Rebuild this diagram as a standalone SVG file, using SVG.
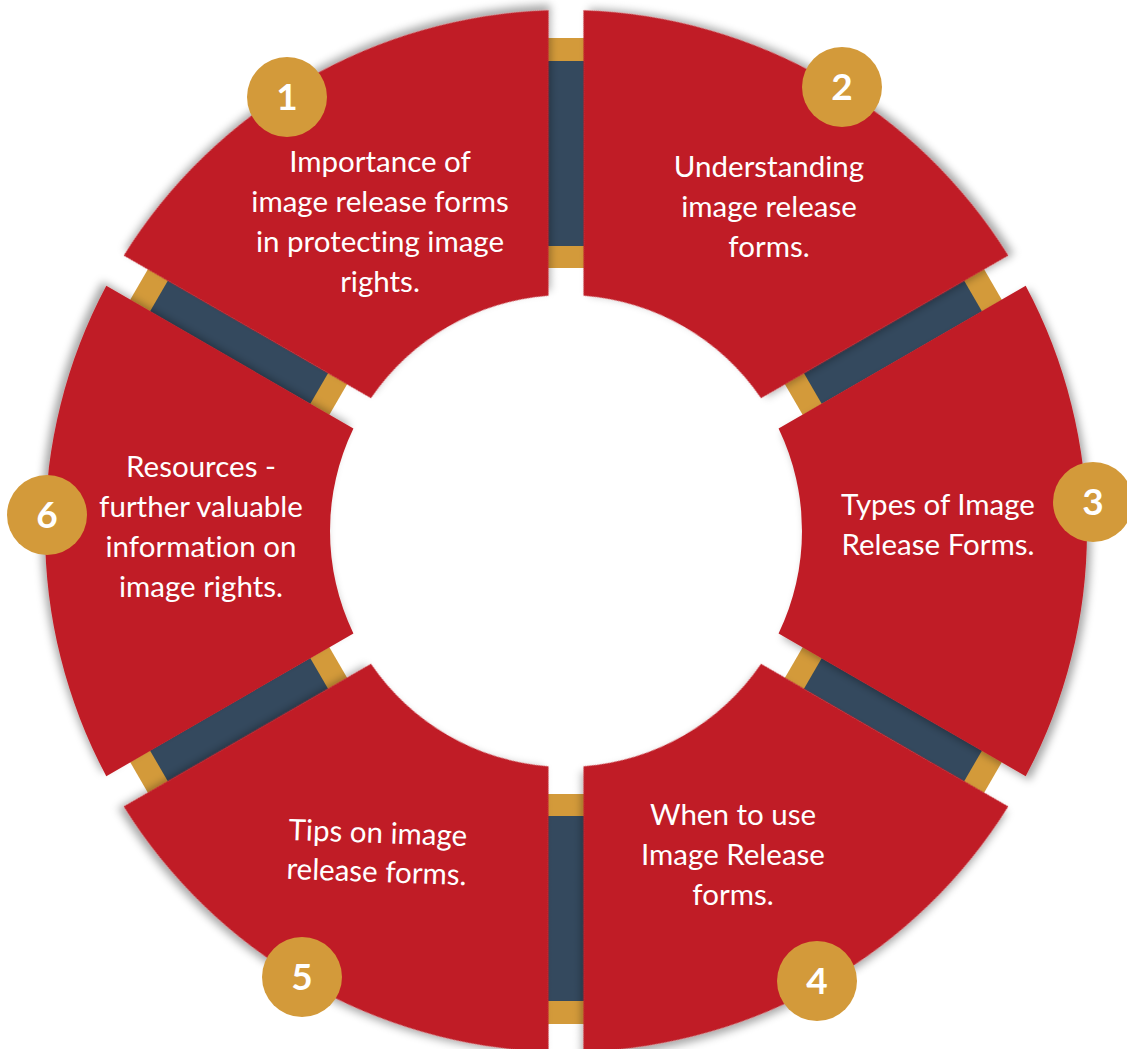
<svg xmlns="http://www.w3.org/2000/svg" width="1127" height="1049" viewBox="0 0 1127 1049">
  <defs>
    <style>
      .seg { fill: #C01F27; filter: url(#shadow); }
      .lbl { font-family: Lato, "Open Sans", "Liberation Sans", sans-serif; font-size: 29.5px; fill: #FFFFFF; text-anchor: middle; font-variant-ligatures: none; }
      .badge { fill: #D39A3A; }
      .num { font-family: Lato, "Open Sans", "Liberation Sans", sans-serif; font-size: 37px; font-weight: bold; fill: #FFFFFF; text-anchor: middle; }
      .gold { fill: #D39A3A; }
      .navy { fill: #34495E; }
    </style>
    <filter id="shadow" x="-20%" y="-20%" width="140%" height="140%">
      <feDropShadow dx="4" dy="4" stdDeviation="4" flood-color="#000000" flood-opacity="0.35"/>
    </filter>
    <path id="segShape" d="M 212.569,-102.520 L 459.694,-245.198 A 521 521 0 0 1 459.694,245.198 L 212.569,102.520 A 236 236 0 0 0 212.569,-102.520 Z"/>
    <g id="bar">
      <rect class="gold" x="263" y="-18" width="23" height="36"/>
      <rect class="navy" x="285" y="-18" width="186" height="36"/>
      <rect class="gold" x="470" y="-18" width="23" height="36"/>
    </g>
  </defs>
  <rect x="0" y="0" width="1127" height="1049" fill="#FFFFFF"/>

  <g id="connectors">
    <use href="#bar" transform="translate(566,531) rotate(30)"/>
    <use href="#bar" transform="translate(566,531) rotate(90)"/>
    <use href="#bar" transform="translate(566,531) rotate(150)"/>
    <use href="#bar" transform="translate(566,531) rotate(210)"/>
    <use href="#bar" transform="translate(566,531) rotate(270)"/>
    <use href="#bar" transform="translate(566,531) rotate(330)"/>
  </g>

  <g id="node1">
    <use href="#segShape" class="seg" transform="translate(566,531) rotate(240)"/>
    <text class="lbl"><tspan x="380" y="172">Importance of</tspan><tspan x="380" y="212">image release forms</tspan><tspan x="380" y="252">in protecting image</tspan><tspan x="380" y="292">rights.</tspan></text>
  </g>
  <g id="node2">
    <use href="#segShape" class="seg" transform="translate(566,531) rotate(300)"/>
    <text class="lbl"><tspan x="769" y="177">Understanding</tspan><tspan x="769" y="217">image release</tspan><tspan x="769" y="257">forms.</tspan></text>
  </g>
  <g id="node3">
    <use href="#segShape" class="seg" transform="translate(566,531) rotate(0)"/>
    <text class="lbl"><tspan x="938" y="515">Types of Image</tspan><tspan x="938" y="555">Release Forms.</tspan></text>
  </g>
  <g id="node4">
    <use href="#segShape" class="seg" transform="translate(566,531) rotate(60)"/>
    <text class="lbl"><tspan x="733" y="825">When to use</tspan><tspan x="733" y="865">Image Release</tspan><tspan x="733" y="905">forms.</tspan></text>
  </g>
  <g id="node5">
    <use href="#segShape" class="seg" transform="translate(566,531) rotate(120)"/>
    <text class="lbl" transform="rotate(2 377 860)"><tspan x="377" y="843">Tips on image</tspan><tspan x="377" y="882">release forms.</tspan></text>
  </g>
  <g id="node6">
    <use href="#segShape" class="seg" transform="translate(566,531) rotate(180)"/>
    <text class="lbl"><tspan x="201" y="477">Resources -</tspan><tspan x="201" y="517">further valuable</tspan><tspan x="201" y="557">information on</tspan><tspan x="201" y="597">image rights.</tspan></text>
  </g>

  <g id="badge1"><circle class="badge" cx="287" cy="97" r="40"/><text class="num" x="287" y="110">1</text></g>
  <g id="badge2"><circle class="badge" cx="842" cy="87" r="40"/><text class="num" x="842" y="100">2</text></g>
  <g id="badge3"><circle class="badge" cx="1093" cy="502" r="40"/><text class="num" x="1093" y="515">3</text></g>
  <g id="badge4"><circle class="badge" cx="817" cy="981" r="40"/><text class="num" x="817" y="994">4</text></g>
  <g id="badge5"><circle class="badge" cx="302" cy="977" r="40"/><text class="num" x="302" y="990">5</text></g>
  <g id="badge6"><circle class="badge" cx="47" cy="515" r="40"/><text class="num" x="47" y="528">6</text></g>
</svg>
